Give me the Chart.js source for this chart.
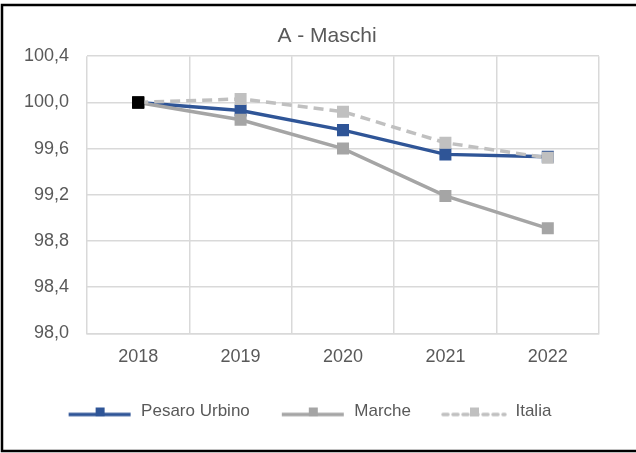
<!DOCTYPE html>
<html>
<head>
<meta charset="utf-8">
<script src="https://cdn.jsdelivr.net/npm/chart.js@4.4.1/dist/chart.umd.min.js"></script>
<style>
  body { margin: 0; background: #fff; }
  #wrap { width: 636px; height: 453px; }
</style>
</head>
<body>
<div id="wrap"><canvas id="chart" width="636" height="453"></canvas></div>
<script>
// Values
const years = ['2018', '2019', '2020', '2021', '2022'];
const pesaroUrbino = [100, 99.93, 99.76, 99.55, 99.53];
const marche = [100, 99.85, 99.60, 99.19, 98.91];
const italia = [100, 100.03, 99.92, 99.65, 99.52];
const seriesNames = ['Pesaro Urbino', 'Marche', 'Italia'];
const yTicks = { min: 98.0, max: 100.4, step: 0.4 };

const FONT = "'Liberation Sans', Arial, sans-serif";
const TEXT = '#595959';
const GRID = '#d9d9d9';

// Legend icon: line with a small square on it
function legendIcon(color, dash) {
    const c = document.createElement('canvas');
    c.width = 66;
    c.height = 18;
    const g = c.getContext('2d');
    g.strokeStyle = color;
    g.lineWidth = 3.5;
    g.lineCap = dash ? 'round' : 'butt';
    g.setLineDash(dash || []);
    g.beginPath();
    g.moveTo(2, 12);
    g.lineTo(64, 12);
    g.stroke();
    g.fillStyle = color;
    g.fillRect(29, 5, 9, 9);
    return c;
}

const icons = [
    legendIcon('#2f5597'),
    legendIcon('#a5a5a5'),
    legendIcon('#c0c0c0', [5, 5])
];

// Outer black frame around the chart
const framePlugin = {
    id: 'frame',
    afterDraw(chart) {
        const ctx = chart.ctx;
        ctx.save();
        ctx.strokeStyle = '#000';
        ctx.lineWidth = 2.5;
        ctx.strokeRect(2, 5, 650, 446);
        ctx.restore();
    }
};

// Nudge title right and legend left, like the original
const boxShift = {
    id: 'boxShift',
    afterLayout(chart) {
        chart.titleBlock.left += 15;
        chart.titleBlock.right += 15;
        chart.legend.left -= 3;
        chart.legend.right -= 3;
    }
};

const ctx = document.getElementById('chart').getContext('2d');
new Chart(ctx, {
    type: 'line',
    data: {
        labels: years,
        datasets: [
            {
                label: seriesNames[0],
                data: pesaroUrbino,
                borderColor: '#2f5597',
                backgroundColor: '#2f5597',
                pointBackgroundColor: ['#000', '#2f5597', '#2f5597', '#2f5597', '#2f5597'],
                pointBorderWidth: 0,
                borderWidth: 3.5,
                pointStyle: 'rect',
                pointRadius: 8.5,
                order: 3
            },
            {
                label: seriesNames[1],
                data: marche,
                borderColor: '#a5a5a5',
                backgroundColor: '#a5a5a5',
                pointBackgroundColor: ['#000', '#a5a5a5', '#a5a5a5', '#a5a5a5', '#a5a5a5'],
                pointBorderWidth: 0,
                borderWidth: 3.5,
                pointStyle: 'rect',
                pointRadius: 8.5,
                order: 2
            },
            {
                label: seriesNames[2],
                data: italia,
                borderColor: '#c0c0c0',
                backgroundColor: '#c0c0c0',
                pointBackgroundColor: ['#000', '#c0c0c0', '#c0c0c0', '#c0c0c0', '#c0c0c0'],
                pointBorderWidth: 0,
                borderWidth: 3.5,
                borderDash: [10, 6],
                pointStyle: 'rect',
                pointRadius: 8.5,
                order: 1
            }
        ]
    },
    options: {
        responsive: false,
        animation: false,
        layout: {
            padding: { top: 24, left: 25, right: 37, bottom: 23 }
        },
        plugins: {
            title: {
                display: true,
                text: 'A - Maschi',
                color: TEXT,
                font: { family: FONT, size: 21, weight: 'normal' },
                padding: { top: 0, bottom: 7 }
            },
            legend: {
                position: 'bottom',
                labels: {
                    usePointStyle: true,
                    pointStyleWidth: 66,
                    padding: 30,
                    color: TEXT,
                    font: { family: FONT, size: 17 },
                    sort: (a, b) => a.datasetIndex - b.datasetIndex,
                    generateLabels(chart) {
                        const items = Chart.defaults.plugins.legend.labels.generateLabels(chart);
                        items.forEach(it => { it.pointStyle = icons[it.datasetIndex]; });
                        return items;
                    }
                }
            },
            tooltip: { enabled: false }
        },
        scales: {
            x: {
                offset: true,
                grid: { offset: true, color: GRID, lineWidth: 1.5, drawTicks: false },
                border: { color: GRID, width: 1.5 },
                ticks: { color: TEXT, font: { family: FONT, size: 18 }, padding: 13 },
                afterFit(scale) { scale.height -= 8; }
            },
            y: {
                min: yTicks.min,
                max: yTicks.max,
                grid: { color: GRID, lineWidth: 1.5, drawTicks: false },
                border: { display: false },
                ticks: {
                    stepSize: yTicks.step,
                    color: TEXT,
                    font: { family: FONT, size: 18 },
                    padding: 18,
                    callback: v => v.toFixed(1).replace('.', ',')
                },
                afterFit(scale) { scale.width = 62; }
            }
        }
    },
    plugins: [framePlugin, boxShift]
});
</script>
</body>
</html>
